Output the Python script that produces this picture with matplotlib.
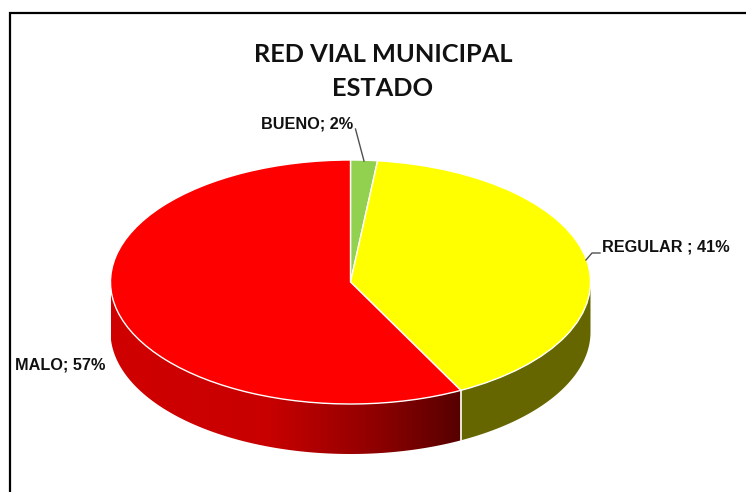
import numpy as np
import matplotlib
matplotlib.use("Agg")
import matplotlib.pyplot as plt
from matplotlib.patches import Polygon
from matplotlib.colors import LinearSegmentedColormap

categories = ["BUENO", "REGULAR", "MALO"]
values = [1.8, 40.6, 57.6]
label_pct = ["2%", "41%", "57%"]
title_lines = ["RED VIAL MUNICIPAL", "ESTADO"]
colors = ["#92D050", "#FFFF00", "#FF0000"]

W, H = 746, 492
CX, CY, RX, RY, DEPTH = 350.5, 282.0, 240.0, 122.0, 50.0

fig = plt.figure(figsize=(W / 100, H / 100), dpi=100, facecolor="white")
ax = fig.add_axes([0, 0, 1, 1])

wedges, _ = ax.pie(values, colors=colors, startangle=90, counterclock=False,
                   wedgeprops=dict(edgecolor="white", linewidth=1.0))
ax.set_aspect("auto")
ax.set_xlim(-CX / RX, (W - CX) / RX)
ax.set_ylim((CY - H) / RY, CY / RY)
ax.set_axis_off()
for w in wedges:
    w.set_zorder(5)

d = DEPTH / RY
frac = np.cumsum(values) / np.sum(values)
a_reg_end = 90 - 360 * frac[1]


def wall(a0, a1):
    t = np.radians(np.linspace(a0, a1, 200))
    x, y = np.cos(t), np.sin(t)
    return np.r_[np.c_[x, y], np.c_[x[::-1], y[::-1] - d]]


# Side wall of the yellow slice (visible from the right edge to the slice end)
ax.add_patch(Polygon(wall(0, a_reg_end), closed=True, fc="#666600", ec="none",
                     zorder=2))

# Side wall of the red slice with its horizontal dark gradient
x_end = np.cos(np.radians(a_reg_end))
red_poly = Polygon(wall(a_reg_end, -180), closed=True, fc="none", ec="none", zorder=2)
ax.add_patch(red_poly)
cmap = LinearSegmentedColormap.from_list(
    "wall", [(0, "#D00000"), (0.45, "#C80000"), (0.75, "#900000"), (1, "#560000")])
im = ax.imshow(np.linspace(0, 1, 256).reshape(1, -1), cmap=cmap, aspect="auto",
               extent=[-1, x_end, -1 - d, 0], zorder=2, interpolation="bilinear")
im.set_clip_path(red_poly)
ax.set_xlim(-CX / RX, (W - CX) / RX)
ax.set_ylim((CY - H) / RY, CY / RY)

# White seam between the two walls
y_end = np.sin(np.radians(a_reg_end))
ax.plot([x_end, x_end], [y_end, y_end - d], color="white", lw=1.2, zorder=3)


def px(x, y):
    return (x - CX) / RX, (CY - y) / RY


# Leader lines
lead = "#505050"
for pts in ([(355.5, 129), (364, 161)], [(586, 260), (592, 253), (600, 253)]):
    xs, ys = zip(*[px(*p) for p in pts])
    ax.plot(xs, ys, color=lead, lw=1.0, zorder=6)

# Data labels
lab = dict(family="Liberation Sans", fontweight="bold", fontsize=11.7, color="#111111",
           va="center", zorder=7)
ax.text(*px(261, 124), f"{categories[0]}; {label_pct[0]}", ha="left", **lab)
ax.text(*px(602, 246.5), f"{categories[1]} ; {label_pct[1]}", ha="left", **lab)
ax.text(*px(15, 364.5), f"{categories[2]}; {label_pct[2]}", ha="left", **lab)

# Title
ttl = dict(family="Lato", fontweight="bold", fontsize=18.3, color="#111111",
           ha="center", va="center")
ax.text(*px(383, 54), title_lines[0], **ttl)
ax.text(*px(383, 89), title_lines[1], **ttl)

# Frame: only the top and left lines are visible
ax.plot(*zip(px(10, H), px(10, 13), px(W, 13)), color="black", lw=1.6, zorder=8,
        solid_joinstyle="miter", clip_on=True)

fig.savefig("out.png", dpi=100, facecolor="white")
